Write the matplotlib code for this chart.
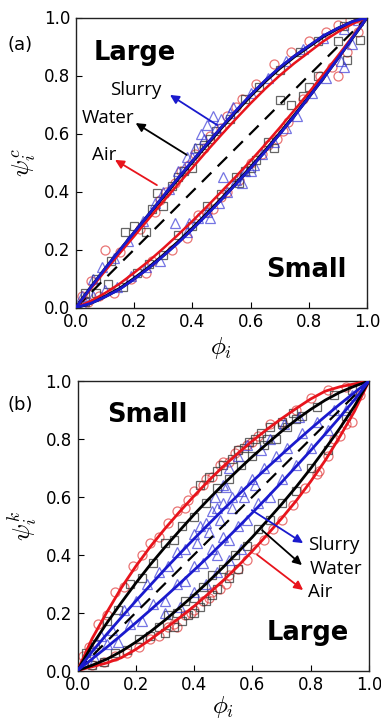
import matplotlib
matplotlib.use("Agg")
import matplotlib.pyplot as plt
import numpy as np

plt.rcParams['mathtext.fontset'] = 'cm'
plt.rcParams['font.family'] = ['DejaVu Sans']

# ---------------- data ----------------
grid_x = [0, .05, .1, .15, .2, .25, .3, .35, .4, .45, .5, .55, .6, .65, .7, .75, .8, .85, .9, .95, 1]

# panel (a) model curves
a_water_up = [0, .068, .133, .196, .258, .32, .382, .443, .503, .562, .62, .676, .73, .78, .825, .865, .90, .935, .962, .985, 1]
a_slurry_up = [0, .068, .134, .197, .259, .321, .384, .445, .505, .564, .622, .679, .733, .783, .828, .867, .902, .937, .963, .986, 1]
a_air_up = [0, .064, .126, .187, .246, .306, .366, .424, .482, .54, .596, .651, .704, .754, .80, .842, .88, .918, .95, .978, 1]
a_water_lo = [0, .015, .038, .065, .10, .138, .18, .225, .273, .323, .375, .428, .483, .54, .60, .662, .726, .792, .86, .93, 1]
a_slurry_lo = [0, .014, .037, .063, .098, .136, .178, .222, .27, .32, .372, .426, .481, .538, .598, .66, .725, .791, .859, .93, 1]
a_air_lo = [0, .022, .05, .082, .12, .16, .204, .25, .298, .348, .40, .452, .506, .562, .62, .68, .741, .804, .868, .934, 1]

# panel (b) model curves
b_air_up = [0, .11, .2, .285, .36, .428, .49, .548, .603, .656, .705, .75, .793, .833, .87, .905, .938, .965, .98, .99, 1]
b_air_lo = [0, .013, .026, .044, .073, .107, .144, .182, .222, .266, .311, .36, .413, .468, .525, .586, .653, .726, .808, .895, 1]
b_water_up = [0, .087, .163, .234, .302, .366, .426, .483, .539, .592, .643, .692, .739, .783, .826, .866, .902, .934, .961, .982, 1]
b_water_lo = [0, .018, .039, .066, .098, .134, .174, .217, .261, .308, .357, .408, .461, .517, .574, .634, .698, .766, .837, .913, 1]
b_slurry_up = [0, .065, .125, .183, .24, .295, .35, .403, .455, .506, .556, .605, .653, .70, .746, .791, .835, .878, .92, .96, 1]
b_slurry_lo = [0, .04, .08, .122, .165, .209, .254, .30, .347, .394, .444, .494, .545, .597, .65, .705, .76, .817, .875, .935, 1]

# panel (a) measurements
a_air_x = [0.02, 0.05, 0.10, 0.15, 0.22, 0.27, 0.31, 0.36, 0.41, 0.46, 0.52, 0.57, 0.62, 0.68, 0.74, 0.80, 0.86, 0.90, 0.94, 0.97,
           0.04, 0.08, 0.13, 0.19, 0.24, 0.26, 0.33, 0.38, 0.42, 0.47, 0.52, 0.56, 0.60, 0.64, 0.69, 0.73, 0.78, 0.84, 0.88, 0.90, 0.93, 0.97,
           0.29, 0.34, 0.39, 0.44, 0.50, 0.55, 0.45, 0.50, 0.66, 0.71]
a_air_y = [0.04, 0.09, 0.20, 0.19, 0.27, 0.33, 0.40, 0.47, 0.53, 0.59, 0.66, 0.72, 0.77, 0.84, 0.88, 0.92, 0.95, 0.975, 0.99, 1.0,
           0.02, 0.04, 0.05, 0.10, 0.12, 0.16, 0.20, 0.24, 0.32, 0.34, 0.40, 0.44, 0.50, 0.53, 0.58, 0.64, 0.72, 0.80, 0.83, 0.80, 0.88, 0.95,
           0.37, 0.43, 0.49, 0.55, 0.62, 0.69, 0.33, 0.38, 0.56, 0.61]
a_water_x = [0.03, 0.07, 0.12, 0.17, 0.20, 0.24, 0.28, 0.30, 0.33, 0.37, 0.40, 0.44, 0.48, 0.53, 0.58, 0.63, 0.70, 0.77, 0.83, 0.92,
             0.03, 0.07, 0.11, 0.16, 0.21, 0.25, 0.30, 0.35, 0.40, 0.45, 0.50, 0.55, 0.58, 0.62, 0.66, 0.70, 0.74, 0.78, 0.80, 0.83, 0.90, 0.93, 0.975,
             0.26, 0.35, 0.42, 0.46, 0.56, 0.60, 0.68]
a_water_y = [0.05, 0.10, 0.16, 0.26, 0.28, 0.26, 0.395, 0.35, 0.42, 0.47, 0.48, 0.56, 0.61, 0.65, 0.72, 0.76, 0.82, 0.88, 0.92, 0.97,
             0.02, 0.05, 0.08, 0.07, 0.12, 0.15, 0.18, 0.25, 0.28, 0.35, 0.39, 0.45, 0.47, 0.51, 0.57, 0.715, 0.70, 0.73, 0.76, 0.80, 0.92, 0.853, 0.922,
             0.34, 0.45, 0.55, 0.58, 0.43, 0.48, 0.55]
a_slurry_x = [0.02, 0.06, 0.09, 0.13, 0.18, 0.23, 0.27, 0.32, 0.35, 0.38, 0.41, 0.43, 0.45, 0.47, 0.50, 0.54, 0.60, 0.66, 0.72, 0.78, 0.85, 0.92, 0.97,
              0.02, 0.06, 0.10, 0.14, 0.19, 0.24, 0.29, 0.34, 0.38, 0.42, 0.46, 0.49, 0.505, 0.52, 0.55, 0.58, 0.61, 0.64, 0.68, 0.72, 0.76, 0.81, 0.86, 0.91, 0.92, 0.95,
              0.30, 0.37, 0.40, 0.44, 0.48, 0.53, 0.57, 0.60, 0.39, 0.45]
a_slurry_y = [0.04, 0.10, 0.14, 0.17, 0.23, 0.30, 0.36, 0.41, 0.47, 0.52, 0.55, 0.60, 0.63, 0.66, 0.65, 0.69, 0.74, 0.79, 0.85, 0.89, 0.93, 0.96, 0.99,
              0.01, 0.04, 0.06, 0.07, 0.11, 0.14, 0.16, 0.29, 0.26, 0.31, 0.31, 0.36, 0.45, 0.40, 0.44, 0.47, 0.49, 0.53, 0.57, 0.62, 0.66, 0.74, 0.79, 0.85, 0.83, 0.91,
              0.40, 0.48, 0.52, 0.58, 0.62, 0.67, 0.43, 0.47, 0.29, 0.33]

# panel (b) measurements
b_air_x = [0.02, 0.04, 0.07, 0.10, 0.13, 0.16, 0.19, 0.22, 0.25, 0.28, 0.31, 0.34, 0.37, 0.40, 0.43, 0.46, 0.49, 0.52, 0.55, 0.58, 0.62, 0.66, 0.70, 0.75, 0.80, 0.86, 0.92,
           0.05, 0.09, 0.13, 0.17, 0.21, 0.25, 0.28, 0.31, 0.34, 0.37, 0.40, 0.43, 0.46, 0.49, 0.52, 0.55, 0.58, 0.61, 0.64, 0.67, 0.70, 0.74, 0.78, 0.82, 0.83, 0.86, 0.88, 0.90, 0.92, 0.94, 0.97,
           0.38, 0.44, 0.50, 0.54, 0.60, 0.33, 0.39, 0.45, 0.51]
b_air_y = [0.05, 0.08, 0.16, 0.19, 0.27, 0.29, 0.36, 0.40, 0.44, 0.46, 0.51, 0.55, 0.56, 0.62, 0.64, 0.67, 0.71, 0.72, 0.76, 0.78, 0.81, 0.85, 0.86, 0.90, 0.94, 0.97, 0.98,
           0.02, 0.03, 0.05, 0.06, 0.08, 0.11, 0.12, 0.15, 0.15, 0.19, 0.21, 0.24, 0.27, 0.28, 0.33, 0.35, 0.38, 0.42, 0.45, 0.49, 0.52, 0.57, 0.63, 0.68, 0.69, 0.74, 0.80, 0.81, 0.85, 0.86, 0.95,
           0.59, 0.66, 0.72, 0.75, 0.79, 0.16, 0.20, 0.25, 0.30]
b_water_x = [0.03, 0.06, 0.10, 0.14, 0.18, 0.22, 0.26, 0.30, 0.33, 0.36, 0.40, 0.44, 0.48, 0.52, 0.56, 0.60, 0.64, 0.68, 0.72, 0.77, 0.82, 0.88, 0.94, 0.65, 0.70, 0.75,
             0.05, 0.09, 0.13, 0.17, 0.21, 0.25, 0.28, 0.31, 0.34, 0.37, 0.40, 0.43, 0.46, 0.50, 0.54, 0.58, 0.62, 0.66, 0.70, 0.75, 0.80, 0.86, 0.92,
             0.42, 0.45, 0.48, 0.50, 0.53, 0.55, 0.57, 0.59, 0.61, 0.63, 0.66, 0.70, 0.74,
             0.30, 0.33, 0.36, 0.38, 0.40, 0.42, 0.44, 0.46, 0.48, 0.52, 0.55]
b_water_y = [0.06, 0.09, 0.17, 0.21, 0.30, 0.32, 0.37, 0.44, 0.45, 0.50, 0.53, 0.58, 0.63, 0.66, 0.71, 0.74, 0.78, 0.80, 0.84, 0.88, 0.91, 0.95, 0.97, 0.80, 0.85, 0.87,
             0.02, 0.03, 0.06, 0.07, 0.11, 0.12, 0.15, 0.19, 0.20, 0.24, 0.25, 0.29, 0.33, 0.35, 0.40, 0.43, 0.49, 0.52, 0.58, 0.62, 0.70, 0.76, 0.88,
             0.64, 0.67, 0.69, 0.71, 0.73, 0.76, 0.77, 0.79, 0.80, 0.82, 0.84, 0.86, 0.89,
             0.13, 0.15, 0.17, 0.19, 0.20, 0.22, 0.24, 0.26, 0.28, 0.32, 0.35]
b_slurry_x = [0.02, 0.05, 0.08, 0.12, 0.16, 0.20, 0.24, 0.28, 0.31, 0.34, 0.37, 0.40, 0.42, 0.44, 0.46, 0.48, 0.50, 0.53, 0.56, 0.60, 0.64, 0.68, 0.72, 0.77, 0.82, 0.88, 0.94,
              0.47, 0.50, 0.51, 0.52, 0.55, 0.58, 0.63, 0.66, 0.71, 0.76,
              0.06, 0.10, 0.14, 0.18, 0.22, 0.26, 0.30, 0.34, 0.37, 0.40, 0.43, 0.46, 0.48, 0.50, 0.52, 0.55, 0.58, 0.62, 0.66, 0.70, 0.75, 0.80, 0.86, 0.92,
              0.30, 0.35, 0.40, 0.44, 0.48, 0.52, 0.56, 0.41, 0.45, 0.49, 0.53, 0.57, 0.61]
b_slurry_y = [0.03, 0.07, 0.12, 0.14, 0.21, 0.24, 0.30, 0.34, 0.36, 0.41, 0.42, 0.47, 0.50, 0.51, 0.55, 0.56, 0.58, 0.60, 0.62, 0.66, 0.70, 0.74, 0.77, 0.82, 0.86, 0.90, 0.95,
              0.60, 0.64, 0.635, 0.70, 0.74, 0.78, 0.76, 0.80, 0.85, 0.875,
              0.04, 0.09, 0.10, 0.16, 0.17, 0.23, 0.24, 0.30, 0.31, 0.36, 0.37, 0.42, 0.40, 0.46, 0.45, 0.50, 0.52, 0.58, 0.60, 0.66, 0.71, 0.77, 0.83, 0.90,
              0.20, 0.22, 0.27, 0.30, 0.34, 0.38, 0.42, 0.44, 0.48, 0.52, 0.56, 0.60, 0.64]

tick_vals = [0.0, 0.2, 0.4, 0.6, 0.8, 1.0]
tick_labels = ['0.0', '0.2', '0.4', '0.6', '0.8', '1.0']

RED = '#e8141c'
BLUE = '#1a1acd'
BLACK = '#000000'
PT_RED = '#e03a3a'
PT_BLUE = '#3a3ad8'
PT_BLACK = '#333333'

# ---------------- figure ----------------
fig = plt.figure(figsize=(3.81, 7.22), dpi=100)
W, H = 381.0, 722.0
ax_a = fig.add_axes([76 / W, 1 - 307.5 / H, 291 / W, 290 / H])
ax_b = fig.add_axes([77.5 / W, 1 - 670.5 / H, 291.5 / W, 289.5 / H])


def style_axes(ax, ylab, xpad):
    ax.set_xlim(0, 1)
    ax.set_ylim(0, 1)
    ax.set_xticks(tick_vals)
    ax.set_yticks(tick_vals)
    ax.set_xticklabels(tick_labels)
    ax.set_yticklabels(tick_labels)
    ax.tick_params(direction='in', length=4, width=0.8, labelsize=12, pad=4,
                   top=False, right=False)
    for s in ax.spines.values():
        s.set_linewidth(1.0)
        s.set_color('#222222')
    ax.set_xlabel(r'$\phi_i$', fontsize=18, labelpad=xpad)
    ax.set_ylabel(ylab, fontsize=18, labelpad=4)


def scatter_sets(ax, ax_x, ax_y, wx, wy, sx, sy):
    ax.plot(ax_x, ax_y, 'o', ms=6.5, mfc='none', mec=PT_RED, mew=0.9, alpha=0.7, zorder=2)
    ax.plot(wx, wy, 's', ms=6, mfc='none', mec=PT_BLACK, mew=0.9, alpha=0.75, zorder=2)
    ax.plot(sx, sy, '^', ms=6.5, mfc='none', mec=PT_BLUE, mew=0.9, alpha=0.7, zorder=2)


def arrow(ax, head, tail, color):
    ax.annotate('', xy=head, xytext=tail, xycoords='data', textcoords='data',
                arrowprops=dict(arrowstyle='-|>', color=color, lw=1.3,
                                mutation_scale=13, shrinkA=0, shrinkB=0), zorder=6)


# panel (a)
scatter_sets(ax_a, a_air_x, a_air_y, a_water_x, a_water_y, a_slurry_x, a_slurry_y)
ax_a.plot([0, 1], [0, 1], '--', color='black', lw=1.6, dashes=(6, 4), zorder=3)
ax_a.plot(grid_x, a_water_up, color=BLACK, lw=2.4, zorder=4)
ax_a.plot(grid_x, a_water_lo, color=BLACK, lw=2.4, zorder=4)
ax_a.plot(grid_x, a_slurry_up, color=BLUE, lw=2.0, zorder=5)
ax_a.plot(grid_x, a_slurry_lo, color=BLUE, lw=2.0, zorder=5)
ax_a.plot(grid_x, a_air_up, color=RED, lw=1.8, zorder=4)
ax_a.plot(grid_x, a_air_lo, color=RED, lw=1.8, zorder=4)
style_axes(ax_a, r'$\psi_i^c$', 3)

ax_a.text(0.062, 0.877, 'Large', fontsize=18.5, fontweight='bold', va='center', ha='left')
ax_a.text(0.652, 0.129, 'Small', fontsize=18.5, fontweight='bold', va='center', ha='left')
ax_a.text(0.117, 0.75, 'Slurry', fontsize=13.5, family='Open Sans', va='center', ha='left')
ax_a.text(0.02, 0.652, 'Water', fontsize=13.5, family='Open Sans', va='center', ha='left')
ax_a.text(0.055, 0.526, 'Air', fontsize=13.5, family='Open Sans', va='center', ha='left')
arrow(ax_a, (0.323, 0.733), (0.485, 0.629), BLUE)
arrow(ax_a, (0.205, 0.636), (0.381, 0.526), BLACK)
arrow(ax_a, (0.134, 0.509), (0.278, 0.422), RED)

# panel (b)
scatter_sets(ax_b, b_air_x, b_air_y, b_water_x, b_water_y, b_slurry_x, b_slurry_y)
ax_b.plot([0, 1], [0, 1], '--', color='black', lw=1.6, dashes=(6, 4), zorder=3)
ax_b.plot(grid_x, b_air_up, color=RED, lw=2.0, zorder=4)
ax_b.plot(grid_x, b_air_lo, color=RED, lw=2.0, zorder=4)
ax_b.plot(grid_x, b_water_up, color=BLACK, lw=2.0, zorder=4)
ax_b.plot(grid_x, b_water_lo, color=BLACK, lw=2.0, zorder=4)
ax_b.plot(grid_x, b_slurry_up, color=BLUE, lw=2.0, zorder=5)
ax_b.plot(grid_x, b_slurry_lo, color=BLUE, lw=2.0, zorder=5)
style_axes(ax_b, r'$\psi_i^k$', 0)

ax_b.text(0.102, 0.882, 'Small', fontsize=18.5, fontweight='bold', va='center', ha='left')
ax_b.text(0.65, 0.13, 'Large', fontsize=18.5, fontweight='bold', va='center', ha='left')
ax_b.text(0.79, 0.434, 'Slurry', fontsize=13.5, family='Open Sans', va='center', ha='left')
ax_b.text(0.797, 0.35, 'Water', fontsize=13.5, family='Open Sans', va='center', ha='left')
ax_b.text(0.79, 0.27, 'Air', fontsize=13.5, family='Open Sans', va='center', ha='left')
arrow(ax_b, (0.774, 0.44), (0.598, 0.554), BLUE)
arrow(ax_b, (0.77, 0.364), (0.633, 0.485), BLACK)
arrow(ax_b, (0.774, 0.278), (0.616, 0.40), RED)

fig.text(20 / W, 1 - 45 / H, '(a)', fontsize=13, ha='center', va='center')
fig.text(20 / W, 1 - 405 / H, '(b)', fontsize=13, ha='center', va='center')

fig.savefig('out.png', dpi=100)
